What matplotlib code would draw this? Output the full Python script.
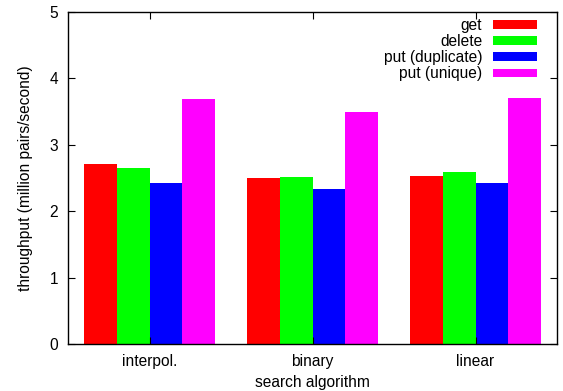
import matplotlib
matplotlib.use("Agg")
import matplotlib.pyplot as plt
import numpy as np

plt.rcParams['font.family'] = ['Liberation Sans', 'DejaVu Sans']

categories = ["interpol.", "binary", "linear"]
series = ["get", "delete", "put (duplicate)", "put (unique)"]
get_vals = [2.71, 2.50, 2.53]
delete_vals = [2.65, 2.515, 2.59]
dup_vals = [2.42, 2.33, 2.42]
unique_vals = [3.69, 3.49, 3.70]
colors = ["#ff0000", "#00ff00", "#0000ff", "#ff00ff"]

data = [get_vals, delete_vals, dup_vals, unique_vals]
FS = 11.2

fig = plt.figure(figsize=(5.63, 3.91), dpi=100)
ax = fig.add_axes([68/563, 1-344/391, (557-68)/563, (344-12)/391])

x = np.arange(len(categories))
w = 0.2
for i, (vals, name, c) in enumerate(zip(data, series, colors)):
    ax.bar(x + (i - 1.5) * w, vals, width=w, color=c, label=name, linewidth=0)

ax.set_xlim(-0.5, 2.5)
ax.set_ylim(0, 5)
ax.set_xticks(x)
ax.set_xticklabels(categories)
ax.set_yticks([0, 1, 2, 3, 4, 5])
ax.tick_params(axis='both', direction='in', length=5, width=0.8, top=True, right=True, labelsize=FS)
ax.tick_params(axis='y', pad=7)
ax.tick_params(axis='x', pad=7)
for s in ax.spines.values():
    s.set_linewidth(1.0)

ax.set_xlabel("search algorithm", fontsize=FS, labelpad=4.5)
ax.set_ylabel("throughput (million pairs/second)", fontsize=FS, labelpad=12)

leg = ax.legend(loc='upper right', frameon=False, markerfirst=False, fontsize=FS,
                handlelength=2.8, handleheight=0.5, labelspacing=0.07,
                handletextpad=0.7, borderaxespad=0.3, borderpad=0.1,
                bbox_to_anchor=(0.971, 1.0))
for t in leg.get_texts():
    t.set_ha('right')

fig.savefig("out.png", dpi=100)
